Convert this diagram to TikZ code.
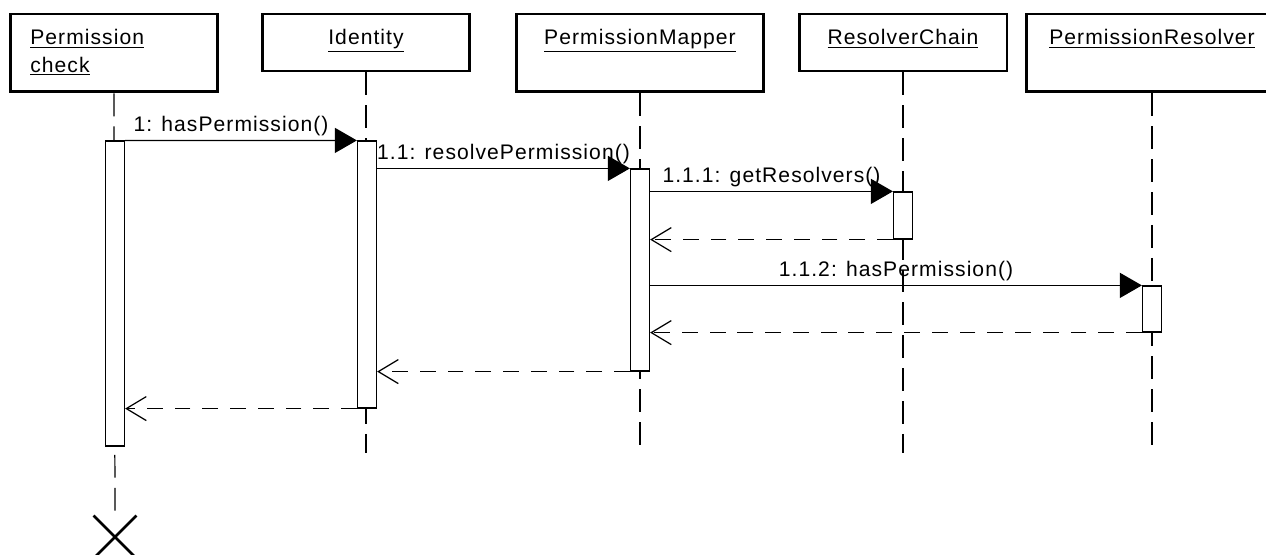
\documentclass[tikz,border=0pt]{standalone}
\usepackage{fontspec}
\setmainfont[LetterSpace=5]{Liberation Sans}
\usetikzlibrary{arrows.meta,shapes.misc}

\begin{document}
\begin{tikzpicture}[x=0.02cm, y=-0.02cm, font=\fontsize{12}{14}\selectfont,
 objbox/.style={rectangle, draw=black, line width=1.7pt, fill=white, inner sep=0pt},
 objname/.style={anchor=base, inner sep=0pt},
 lifeline/.style={draw=black, line width=0.7pt, dash pattern=on 13pt off 5.7pt},
 actbar/.style={rectangle, draw=black, line width=0.7pt, fill=white, minimum width=0.38cm, inner sep=0pt},
 call/.style={-{Triangle[length=0.44cm, width=0.5cm]}, line width=0.7pt},
 reply/.style={-{Straight Barb[length=0.4cm, width=0.48cm]}, line width=0.7pt, dash pattern=on 9pt off 6.8pt},
 msglabel/.style={midway, anchor=base, yshift=0.18cm, inner sep=0pt}, ]

                \useasboundingbox (0,0) rectangle (1266,554);
                \clip (0,0) rectangle (1266,554);

                % objects
                \node [objbox, minimum width=4.16cm, minimum height=1.56cm] (pc) at (114,53) {};
                \node [objbox, minimum width=4.16cm, minimum height=1.14cm] (id) at (366,42.5) {};
                \node [objbox, minimum width=4.96cm, minimum height=1.56cm] (pm) at (640,53) {};
                \node [objbox, minimum width=4.16cm, minimum height=1.14cm] (rc) at (903,42.5) {};
                \node [objbox, minimum width=5.04cm, minimum height=1.56cm] (pr) at (1152,53) {};

                \node [objname, anchor=base west] (pcname) at (30,45) {\underline{Permission}};
                \node [objname, anchor=base west] (pcname2) at (30,72) {\underline{check}};
                \node [objname] (idname) at (366,45) {\underline{Identity}};
                \node [objname] (pmname) at (640,45) {\underline{PermissionMapper}};
                \node [objname] (rcname) at (903,45) {\underline{ResolverChain}};
                \node [objname] (prname) at (1152,45) {\underline{PermissionResolver}};

                % lifelines
                \node [cross out, draw=black, line width=1.6pt, minimum size=0.8cm, inner sep=0pt] (pcx) at (115,537) {};
                \coordinate (idend) at (366,453);
                \coordinate (pmend) at (640,453);
                \coordinate (rcend) at (903,453);
                \coordinate (prend) at (1152,453);

                \path [lifeline] (pc.south) edge (pcx.north)
                                 (id.south) edge (idend)
                                 (pm.south) edge (pmend)
                                 (rc.south) edge (rcend)
                                 (pr.south) edge (prend);

                % activations
                \node [actbar, minimum height=6.1cm] (pcbar) at (115,293.5) {};
                \node [actbar, minimum height=5.34cm] (idbar) at (367,274.5) {};
                \node [actbar, minimum height=4.04cm] (pmbar) at (640,270) {};
                \node [actbar, minimum height=0.94cm] (rcbar) at (903,215.5) {};
                \node [actbar, minimum height=0.92cm] (prbar) at (1152,309) {};

                % messages
                \draw [call] (pcbar.north east) -- (idbar.north west)
                      node [msglabel, xshift=-0.2cm] {1: hasPermission()};
                \draw [call] (idbar.east |- pmbar.north) -- (pmbar.north west)
                      node [msglabel] {1.1: resolvePermission()};
                \draw [call] (pmbar.east |- rcbar.north) -- (rcbar.north west)
                      node [msglabel] {1.1.1: getResolvers()};
                \draw [reply] (rcbar.south west) -- (pmbar.east |- rcbar.south);
                \draw [call] (pmbar.east |- prbar.north) -- (prbar.north west)
                      node [msglabel] {1.1.2: hasPermission()};
                \draw [reply] (prbar.south west) -- (pmbar.east |- prbar.south);
                \draw [reply] (pmbar.south west) -- (idbar.east |- pmbar.south);
                \draw [reply] (idbar.south west) -- (pcbar.east |- idbar.south);
\end{tikzpicture}
\end{document}
